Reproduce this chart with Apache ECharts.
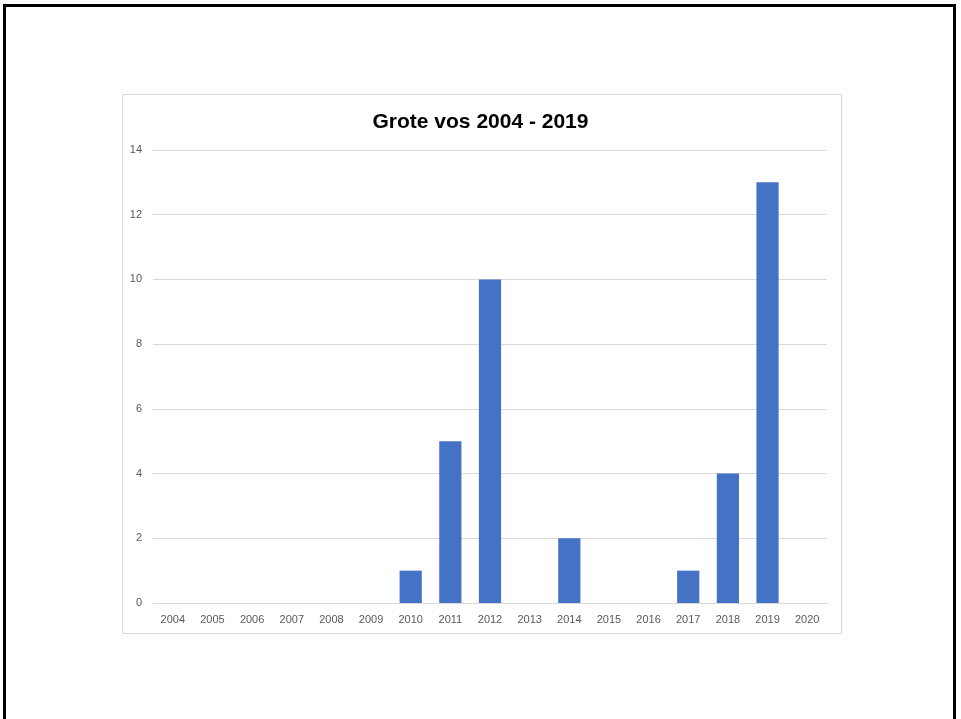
<!DOCTYPE html>
<html><head><meta charset="utf-8">
<script src="https://cdn.jsdelivr.net/npm/echarts@6/dist/echarts.min.js"></script>
<style>html,body{margin:0;padding:0;background:#fff;}#c{width:961px;height:719px;}</style>
</head><body><div id="c"></div>
<script>
const categories = ['2004','2005','2006','2007','2008','2009','2010','2011','2012','2013','2014','2015','2016','2017','2018','2019','2020'];
const values = [0,0,0,0,0,0,1,5,10,0,2,0,0,1,4,13,0];
const titleText = 'Grote vos 2004 - 2019';

const chart = echarts.init(document.getElementById('c'), null, {renderer:'canvas'});
chart.setOption({
  animation:false,
  backgroundColor:'#fff',
  graphic:[
    {type:'rect', shape:{x:4.5, y:5.5, width:950, height:760}, style:{fill:'none', stroke:'#000', lineWidth:3}, silent:true, z:-1},
    {type:'rect', shape:{x:122.5, y:94.5, width:719, height:539}, style:{fill:'#fff', stroke:'#d9d9d9', lineWidth:1}, silent:true, z:-1}
  ],
  title:{text:titleText, left:'center', top:107, textStyle:{fontFamily:'Liberation Sans', fontWeight:'bold', fontSize:21, color:'#000'}},
  grid:{left:153, right:134, top:150, bottom:116, containLabel:false},
  xAxis:{type:'category', data:categories,
    axisLine:{lineStyle:{color:'#d9d9d9'}}, axisTick:{show:false},
    axisLabel:{color:'#595959', fontFamily:'Liberation Sans', fontSize:11, margin:11, interval:0}},
  yAxis:{type:'value', min:0, max:14, interval:2,
    axisLine:{show:false}, axisTick:{show:false},
    splitLine:{lineStyle:{color:'#d9d9d9'}},
    axisLabel:{color:'#595959', fontFamily:'Liberation Sans', fontSize:11, margin:11}},
  series:[{type:'bar', data:values, barCategoryGap:'44%', itemStyle:{color:'#4472C4'}}]
});
</script></body></html>
